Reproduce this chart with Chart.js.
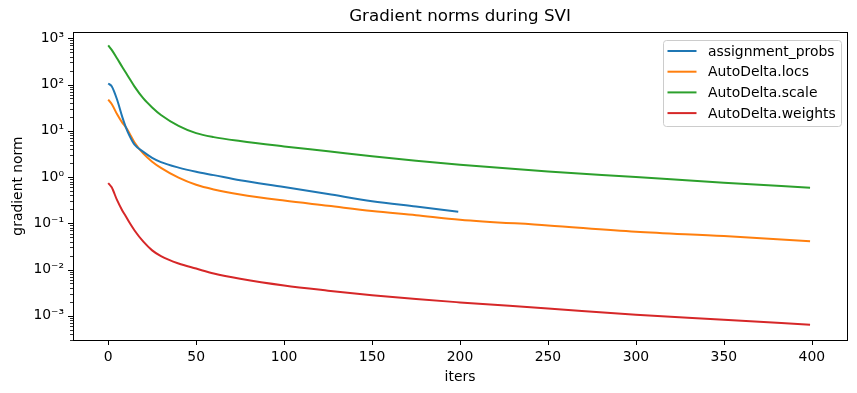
<!DOCTYPE html>
<html><head><meta charset="utf-8">
<script src="https://cdn.jsdelivr.net/npm/chart.js@4.4.1/dist/chart.umd.min.js"></script>
<style>html,body{margin:0;padding:0;background:#fff}</style>
</head><body>
<canvas id="c" width="857" height="393"></canvas>
<script>
const titleText = 'Gradient norms during SVI';
const xLabel = 'iters';
const yLabel = 'gradient norm';
const seriesNames = ['assignment_probs', 'AutoDelta.locs', 'AutoDelta.scale', 'AutoDelta.weights'];
const colors = ['#1f77b4', '#ff7f0e', '#2ca02c', '#d62728'];
const xTicks = [0, 50, 100, 150, 200, 250, 300, 350, 400];
const yTicks = [1e-3, 1e-2, 1e-1, 1e0, 1e1, 1e2, 1e3];
const yTickLabels = ['10⁻³', '10⁻²', '10⁻¹', '10⁰', '10¹', '10²', '10³'];

const itersFull  = [0, 2, 5, 8, 10, 12, 15, 20, 25, 30, 40, 50, 60, 75, 100, 125, 150, 175, 200, 250, 300, 350, 399];
const itersProbs = [0, 2, 5, 8, 10, 12, 15, 20, 25, 30, 40, 50, 60, 75, 100, 125, 150, 175, 199];

const assignmentProbs = [105, 92, 48, 20, 12, 8, 5.0, 3.5, 2.6, 2.1, 1.6, 1.3, 1.1, 0.85, 0.61, 0.43, 0.30, 0.23, 0.178];
const autoDeltaLocs   = [47, 38, 23, 15, 12, 9, 5.6, 3.2, 2.15, 1.58, 0.97, 0.68, 0.54, 0.42, 0.31, 0.24, 0.185, 0.15, 0.12, 0.09, 0.066, 0.053, 0.041];
const autoDeltaScale  = [700, 560, 370, 240, 182, 137, 90, 50, 32, 22, 12.8, 8.9, 7.3, 6.0, 4.6, 3.6, 2.8, 2.25, 1.84, 1.32, 1.0, 0.75, 0.59];
const autoDeltaWeights= [0.74, 0.6, 0.32, 0.19, 0.142, 0.105, 0.07, 0.04, 0.026, 0.0195, 0.0135, 0.0105, 0.0082, 0.0063, 0.0045, 0.0035, 0.0028, 0.0023, 0.00195, 0.00144, 0.00105, 0.00082, 0.00064];

const seriesValues = [assignmentProbs, autoDeltaLocs, autoDeltaScale, autoDeltaWeights];
const seriesIters = [itersProbs, itersFull, itersFull, itersFull];

const FONT = "'DejaVu Sans', sans-serif";
Chart.defaults.font.family = FONT;
Chart.defaults.color = '#000';

const datasets = seriesNames.map((name, i) => ({
  label: name,
  data: seriesIters[i].map((x, j) => ({x: x, y: seriesValues[i][j]})),
  borderColor: colors[i],
  backgroundColor: colors[i],
  borderWidth: 2,
  pointRadius: 0,
  cubicInterpolationMode: 'monotone',
  fill: false
}));

const axesPlugin = {
  id: 'mplAxes',
  afterDraw(chart) {
    const ctx = chart.ctx;
    const a = chart.chartArea;
    const xs = chart.scales.x, ys = chart.scales.y;
    ctx.save();
    ctx.strokeStyle = '#000';
    ctx.lineWidth = 1;
    ctx.beginPath();
    xTicks.forEach(v => {
      const px = Math.round(xs.getPixelForValue(v)) + 0.5;
      ctx.moveTo(px, a.bottom); ctx.lineTo(px, a.bottom + 5);
    });
    yTicks.forEach(v => {
      const py = Math.round(ys.getPixelForValue(v)) + 0.5;
      ctx.moveTo(a.left, py); ctx.lineTo(a.left - 5, py);
    });
    ctx.stroke();
    ctx.lineWidth = 0.8;
    ctx.beginPath();
    for (let k = -4; k <= 3; k++) {
      for (let m = 2; m <= 9; m++) {
        const v = m * Math.pow(10, k);
        if (v < ys.min || v > ys.max) continue;
        const py = Math.round(ys.getPixelForValue(v)) + 0.5;
        ctx.moveTo(a.left, py); ctx.lineTo(a.left - 3, py);
      }
    }
    ctx.stroke();
    ctx.lineWidth = 1;
    ctx.strokeRect(Math.round(a.left) + 0.5, Math.round(a.top) + 0.5,
                   Math.round(a.right - a.left), Math.round(a.bottom - a.top));
    const lx = 663.5, ly = 40.5, lw = 178, lh = 86;
    ctx.beginPath();
    if (ctx.roundRect) ctx.roundRect(lx, ly, lw, lh, 3); else ctx.rect(lx, ly, lw, lh);
    ctx.fillStyle = 'rgba(255,255,255,0.8)';
    ctx.fill();
    ctx.strokeStyle = '#cccccc';
    ctx.lineWidth = 1;
    ctx.stroke();
    ctx.font = '13.9px ' + FONT;
    ctx.textBaseline = 'middle';
    ctx.textAlign = 'left';
    seriesNames.forEach((name, i) => {
      const cy = 51 + i * 20.7;
      ctx.strokeStyle = colors[i];
      ctx.lineWidth = 2;
      ctx.beginPath();
      ctx.moveTo(667.5, cy); ctx.lineTo(696.5, cy);
      ctx.stroke();
      ctx.fillStyle = '#000';
      ctx.fillText(name, 708, cy + 1);
    });
    ctx.restore();
  }
};

new Chart(document.getElementById('c'), {
  type: 'line',
  data: {datasets},
  options: {
    responsive: false,
    animation: false,
    devicePixelRatio: 1,
    layout: {padding: {left: 0, right: 10, top: 0, bottom: 0}},
    plugins: {
      legend: {display: false},
      tooltip: {enabled: false},
      title: {
        display: true, text: titleText, fullSize: false,
        font: {size: 16.7, weight: 'normal', family: FONT},
        color: '#000',
        padding: {top: 7, bottom: 5}
      }
    },
    scales: {
      x: {
        type: 'linear', min: -20, max: 420,
        afterBuildTicks: s => { s.ticks = xTicks.map(v => ({value: v})); },
        afterFit: s => { s.height = 53; },
        grid: {display: false, drawTicks: false},
        border: {display: false},
        ticks: {font: {size: 13.9}, color: '#000', padding: 9, maxRotation: 0, callback: v => String(v)},
        title: {display: true, text: xLabel, font: {size: 13.9}, color: '#000', padding: {top: 0, bottom: 7}}
      },
      y: {
        type: 'logarithmic', min: Math.pow(10, -3.488), max: Math.pow(10, 3.135),
        afterBuildTicks: s => { s.ticks = yTicks.map(v => ({value: v})); },
        afterFit: s => { s.width = 73; },
        grid: {display: false, drawTicks: false},
        border: {display: false},
        ticks: {font: {size: 13.9}, color: '#000', padding: 9,
                callback: (v) => { const i = yTicks.findIndex(t => Math.abs(Math.log10(t) - Math.log10(v)) < 1e-6); return i >= 0 ? yTickLabels[i] : ''; }},
        title: {display: true, text: yLabel, font: {size: 13.9}, color: '#000', padding: {top: 10, bottom: 0}}
      }
    }
  },
  plugins: [axesPlugin]
});
</script>
</body></html>
